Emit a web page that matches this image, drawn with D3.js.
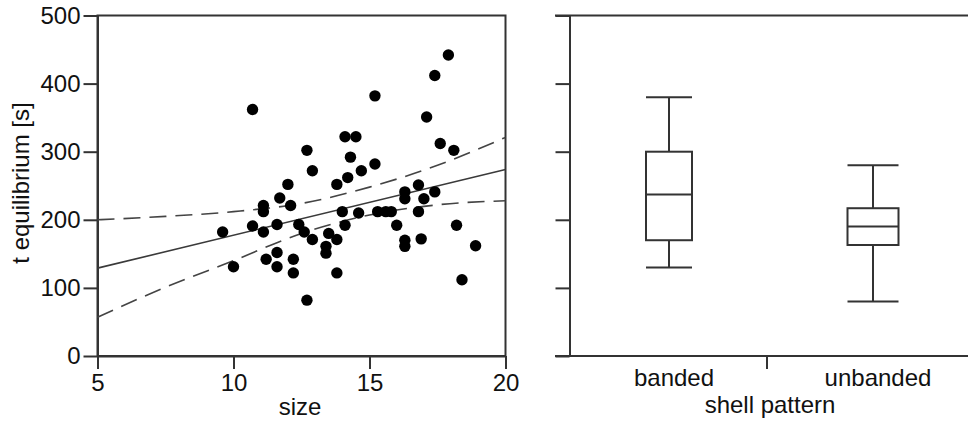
<!DOCTYPE html>
<html><head><meta charset="utf-8">
<script src="https://cdn.jsdelivr.net/npm/d3@7"></script>
<style>
html,body{margin:0;padding:0;background:#fff;}
svg{display:block;}
text{font-family:"Liberation Sans",Arial,sans-serif;fill:#111;}
</style></head><body>
<svg id="c" width="968" height="424"></svg>
<script>
// ---- data ----
const sizeVals = [10.7,12.0,11.7,11.1,11.1,12.1,10.7,11.1,11.6,12.4,12.6,12.9,9.6,10.0,11.2,11.6,11.6,12.2,12.2,12.7,
  17.9,17.4,15.2,17.1,14.1,14.5,12.7,14.3,17.6,18.1,12.9,15.2,14.7,14.2,13.8,16.3,16.8,16.3,17.0,17.4,
  15.3,15.6,15.8,16.8,14.6,14.0,14.1,16.0,13.5,13.8,13.4,13.4,16.3,16.3,16.9,18.2,18.9,18.4,13.8];
const tEqVals = [362,252,232,221,212,221,191,182,193,193,182,171,182,131,142,152,131,142,122,82,
  442,412,382,351,322,322,302,292,312,302,272,282,272,262,252,241,251,231,231,241,
  212,212,212,212,210,212,192,192,180,171,161,151,170,161,172,192,162,112,122];
const fitX = [5, 20];
const fitY = [129, 274];
const ciX = [5, 7.5, 10, 12.5, 15, 17.5, 20];
const ciUpper = [200, 205, 212, 224, 248, 280, 321];
const ciLower = [57, 101, 140, 180, 207, 222, 228];
const xTicks = [5, 10, 15, 20];
const yTicks = [0, 100, 200, 300, 400, 500];
const groups = ["banded", "unbanded"];
const boxLow = [130, 80];
const boxQ1 = [170, 163];
const boxMed = [237, 190];
const boxQ3 = [300, 217];
const boxHigh = [380, 280];

// ---- styles ----
const boxW = {banded: 46, unbanded: 51};
const ink = "#333";
const svg = d3.select("#c");
const y = d3.scaleLinear().domain([0, 500]).range([356, 15.5]);
const x = d3.scaleLinear().domain([5, 20]).range([97.5, 505.5]);

// ---- left panel ----
const L = svg.append("g");
L.append("rect").attr("x", x(5)).attr("y", y(500)).attr("width", x(20) - x(5)).attr("height", y(0) - y(500))
  .attr("fill", "none").attr("stroke", ink).attr("stroke-width", 2);
const ya = L.append("g").attr("transform", `translate(${x(5)},0)`)
  .call(d3.axisLeft(y).tickValues(yTicks).tickSize(14).tickSizeOuter(0).tickPadding(3));
const xa = L.append("g").attr("transform", `translate(0,${y(0)})`)
  .call(d3.axisBottom(x).tickValues(xTicks).tickSize(13).tickSizeOuter(0).tickPadding(5));
[ya, xa].forEach(a => {
  a.select(".domain").attr("stroke", ink).attr("stroke-width", 2);
  a.selectAll(".tick line").attr("stroke", ink).attr("stroke-width", 2);
  a.selectAll(".tick text").style("font-size", "24px").attr("fill", "#111")
    .style("font-family", '"Liberation Sans",Arial,sans-serif');
});

const line = d3.line().x(d => x(d[0])).y(d => y(d[1]));
const curve = d3.line().x(d => x(d[0])).y(d => y(d[1])).curve(d3.curveMonotoneX);
L.append("path").attr("d", line(fitX.map((v, i) => [v, fitY[i]])))
  .attr("fill", "none").attr("stroke", "#3a3a3a").attr("stroke-width", 1.6);
[ciUpper, ciLower].forEach(arr => {
  L.append("path").attr("d", curve(ciX.map((v, i) => [v, arr[i]])))
    .attr("fill", "none").attr("stroke", "#444").attr("stroke-width", 1.6)
    .attr("stroke-dasharray", "17,9");
});
L.append("g").selectAll("circle").data(sizeVals.map((v, i) => [v, tEqVals[i]])).join("circle")
  .attr("cx", d => x(d[0])).attr("cy", d => y(d[1])).attr("r", 5.7).attr("fill", "#000");

L.append("text").attr("x", 300).attr("y", 415).attr("text-anchor", "middle")
  .style("font-size", "24px").text("size");
L.append("text").attr("transform", "translate(29,183) rotate(-90)").attr("text-anchor", "middle")
  .style("font-size", "24px").text("t equilibrium [s]");

// ---- right panel ----
const R = svg.append("g");
const xb = d3.scaleBand().domain(groups).range([567, 975]);
const rx0 = 569.5;
R.append("line").attr("x1", 555).attr("x2", 968).attr("y1", y(500)).attr("y2", y(500)).attr("stroke", ink).attr("stroke-width", 2);
R.append("line").attr("x1", 555).attr("x2", 968).attr("y1", y(0)).attr("y2", y(0)).attr("stroke", ink).attr("stroke-width", 2);
const ra = R.append("g").attr("transform", `translate(${rx0},0)`)
  .call(d3.axisLeft(y).tickValues(yTicks).tickSize(14).tickSizeOuter(0).tickFormat(""));
ra.select(".domain").attr("stroke", ink).attr("stroke-width", 2);
ra.selectAll(".tick line").attr("stroke", ink).attr("stroke-width", 2);
// category divider tick
R.append("line").attr("x1", xb("unbanded") - 4).attr("x2", xb("unbanded") - 4)
  .attr("y1", y(0)).attr("y2", y(0) + 13).attr("stroke", ink).attr("stroke-width", 2);

groups.forEach((g, i) => {
  const cx = xb(g) + xb.bandwidth() / 2;
  const w = boxW[g];
  const s = {stroke: ink, "stroke-width": 2};
  const ln = (x1, y1, x2, y2) => R.append("line").attr("x1", x1).attr("y1", y1).attr("x2", x2).attr("y2", y2)
    .attr("stroke", ink).attr("stroke-width", 2);
  ln(cx, y(boxHigh[i]), cx, y(boxQ3[i]));
  ln(cx, y(boxQ1[i]), cx, y(boxLow[i]));
  ln(cx - w / 2, y(boxHigh[i]), cx + w / 2, y(boxHigh[i]));
  ln(cx - w / 2, y(boxLow[i]), cx + w / 2, y(boxLow[i]));
  R.append("rect").attr("x", cx - w / 2).attr("y", y(boxQ3[i])).attr("width", w)
    .attr("height", y(boxQ1[i]) - y(boxQ3[i])).attr("fill", "#fff").attr("stroke", ink).attr("stroke-width", 2);
  ln(cx - w / 2, y(boxMed[i]), cx + w / 2, y(boxMed[i]));
  R.append("text").attr("x", cx + 5).attr("y", 386).attr("text-anchor", "middle")
    .style("font-size", "24px").text(g);
});
R.append("text").attr("x", 770).attr("y", 413).attr("text-anchor", "middle")
  .style("font-size", "24px").text("shell pattern");
</script>
</body></html>
